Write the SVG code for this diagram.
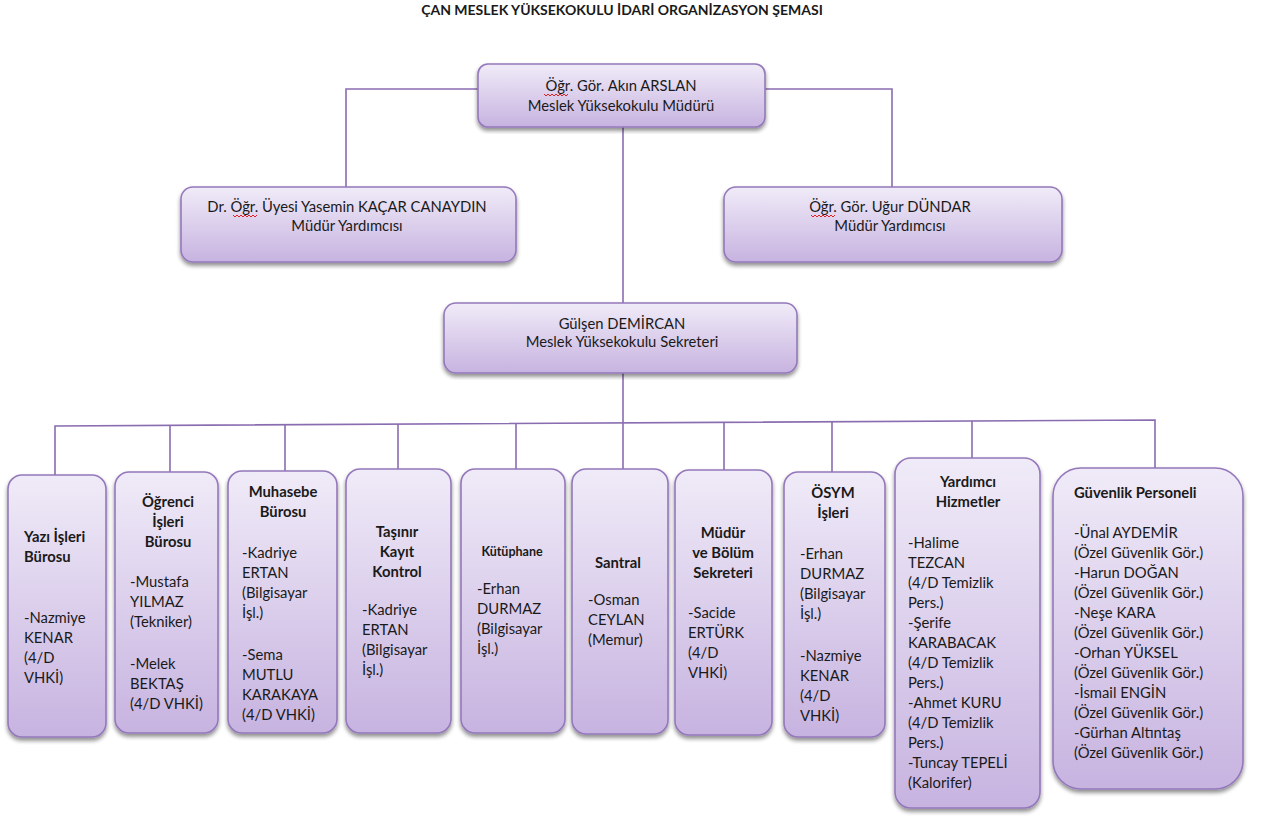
<svg xmlns="http://www.w3.org/2000/svg" width="1261" height="816" viewBox="0 0 1261 816">
<defs>
<linearGradient id="g" x1="0" y1="0" x2="0" y2="1">
<stop offset="0" stop-color="#f0ebf8"/>
<stop offset="1" stop-color="#c7b3e0"/>
</linearGradient>
<filter id="sh" x="-10%" y="-10%" width="120%" height="120%">
<feGaussianBlur in="SourceAlpha" stdDeviation="2"/>
<feOffset dx="0" dy="3" result="b"/>
<feComponentTransfer><feFuncA type="linear" slope="0.45"/></feComponentTransfer>
<feMerge><feMergeNode/><feMergeNode in="SourceGraphic"/></feMerge>
</filter>
<style>
.box{fill:url(#g);stroke:#9478bb;stroke-width:1.6;filter:url(#sh)}
.conn{fill:none;stroke:#8a6cb0;stroke-width:1.6}
text{font-family:Lato,"Open Sans","Liberation Sans",sans-serif;font-size:14.8px;fill:#1a1a1a}
.c{text-anchor:middle}
.b{font-weight:bold}
.title{font-size:14px;font-weight:bold;text-anchor:middle}
.sq{fill:none;stroke:#e02020;stroke-width:1}
</style>
</defs>
<rect width="1261" height="816" fill="#ffffff"/>
<text class="title" x="622" y="15">ÇAN MESLEK YÜKSEKOKULU İDARİ ORGANİZASYON ŞEMASI</text>

<g id="connectors">
<polyline class="conn" points="478,89 346,89 346,187"/>
<polyline class="conn" points="765,89 892,89 892,187"/>
<line class="conn" x1="623" y1="127" x2="623" y2="303"/>
<line class="conn" x1="623" y1="373" x2="623" y2="469"/>
<polyline class="conn" points="55,475 55,426 1155,420 1155,468"/>
<line class="conn" x1="170" y1="425.4" x2="170" y2="472"/>
<line class="conn" x1="285" y1="424.8" x2="285" y2="471"/>
<line class="conn" x1="398" y1="424.1" x2="398" y2="469"/>
<line class="conn" x1="516" y1="423.5" x2="516" y2="469"/>
<line class="conn" x1="724" y1="422.4" x2="724" y2="470"/>
<line class="conn" x1="832" y1="421.8" x2="832" y2="472"/>
<line class="conn" x1="972" y1="421" x2="972" y2="458"/>
</g>

<g id="n-mudur">
<rect class="box" x="478" y="64" width="287" height="63" rx="10"/>
<text class="c" x="621" y="91">Öğr. Gör. Akın ARSLAN</text>
<text class="c" x="621" y="111">Meslek Yüksekokulu  Müdürü</text>
<path class="sq" d="M544,94 l2,2 l2,-2 l2,2 l2,-2 l2,2 l2,-2 l2,2 l2,-2 l2,2 l2,-2 l2,2 l2,-2"/>
</g>

<g id="n-yard1">
<rect class="box" x="181" y="187" width="335" height="75" rx="12"/>
<text class="c" x="347" y="212">Dr. Öğr. Üyesi Yasemin KAÇAR CANAYDIN</text>
<text class="c" x="347" y="231">Müdür Yardımcısı</text>
<path class="sq" d="M233,215 l2,2 l2,-2 l2,2 l2,-2 l2,2 l2,-2 l2,2 l2,-2 l2,2 l2,-2 l2,2 l2,-2"/>
</g>

<g id="n-yard2">
<rect class="box" x="724" y="187" width="338" height="75" rx="12"/>
<text class="c" x="890" y="212">Öğr. Gör. Uğur DÜNDAR</text>
<text class="c" x="890" y="231">Müdür Yardımcısı</text>
<path class="sq" d="M811,215 l2,2 l2,-2 l2,2 l2,-2 l2,2 l2,-2 l2,2 l2,-2 l2,2 l2,-2 l2,2 l2,-2"/>
</g>

<g id="n-sekreter">
<rect class="box" x="444" y="303" width="353" height="70" rx="12"/>
<text class="c" x="622" y="329">Gülşen DEMİRCAN</text>
<text class="c" x="622" y="347">Meslek Yüksekokulu  Sekreteri</text>
</g>

<g id="n-yazi">
<rect class="box" x="8" y="475" width="98" height="262" rx="14"/>
<text class="b" x="24" y="542">Yazı İşleri</text>
<text class="b" x="24" y="562">Bürosu</text>
<text x="24" y="623">-Nazmiye</text>
<text x="24" y="643">KENAR</text>
<text x="24" y="663">(4/D</text>
<text x="24" y="683">VHKİ)</text>
</g>

<g id="n-ogrenci">
<rect class="box" x="115" y="472" width="103" height="261" rx="14"/>
<text class="c b" x="168" y="507">Öğrenci</text>
<text class="c b" x="168" y="527">İşleri</text>
<text class="c b" x="168" y="547">Bürosu</text>
<text x="130" y="587">-Mustafa</text>
<text x="130" y="607">YILMAZ</text>
<text x="130" y="627">(Tekniker)</text>
<text x="130" y="669">-Melek</text>
<text x="130" y="689">BEKTAŞ</text>
<text x="130" y="709">(4/D VHKİ)</text>
</g>

<g id="n-muhasebe">
<rect class="box" x="228" y="471" width="109" height="262" rx="14"/>
<text class="c b" x="283" y="497">Muhasebe</text>
<text class="c b" x="283" y="517">Bürosu</text>
<text x="242" y="558">-Kadriye</text>
<text x="242" y="578">ERTAN</text>
<text x="242" y="598">(Bilgisayar</text>
<text x="242" y="618">İşl.)</text>
<text x="242" y="660">-Sema</text>
<text x="242" y="680">MUTLU</text>
<text x="242" y="700">KARAKAYA</text>
<text x="242" y="720">(4/D VHKİ)</text>
</g>

<g id="n-tasinir">
<rect class="box" x="346" y="469" width="105" height="264" rx="14"/>
<text class="c b" x="397" y="537">Taşınır</text>
<text class="c b" x="397" y="557">Kayıt</text>
<text class="c b" x="397" y="577">Kontrol</text>
<text x="362" y="615">-Kadriye</text>
<text x="362" y="635">ERTAN</text>
<text x="362" y="655">(Bilgisayar</text>
<text x="362" y="675">İşl.)</text>
</g>

<g id="n-kutuphane">
<rect class="box" x="461" y="469" width="104" height="264" rx="14"/>
<text class="c b" x="512" y="556" style="font-size:12.5px">Kütüphane</text>
<text x="477" y="594">-Erhan</text>
<text x="477" y="614">DURMAZ</text>
<text x="477" y="634">(Bilgisayar</text>
<text x="477" y="654">İşl.)</text>
</g>

<g id="n-santral">
<rect class="box" x="572" y="469" width="96" height="265" rx="14"/>
<text class="c b" x="618" y="568">Santral</text>
<text x="588" y="605">-Osman</text>
<text x="588" y="625">CEYLAN</text>
<text x="588" y="645">(Memur)</text>
</g>

<g id="n-mudursek">
<rect class="box" x="675" y="470" width="97" height="265" rx="14"/>
<text class="c b" x="723" y="538">Müdür</text>
<text class="c b" x="723" y="558">ve Bölüm</text>
<text class="c b" x="723" y="578">Sekreteri</text>
<text x="688" y="618">-Sacide</text>
<text x="688" y="638">ERTÜRK</text>
<text x="688" y="658">(4/D</text>
<text x="688" y="678">VHKİ)</text>
</g>

<g id="n-osym">
<rect class="box" x="784" y="472" width="101" height="265" rx="14"/>
<text class="c b" x="833" y="498">ÖSYM</text>
<text class="c b" x="833" y="518">İşleri</text>
<text x="800" y="559">-Erhan</text>
<text x="800" y="579">DURMAZ</text>
<text x="800" y="599">(Bilgisayar</text>
<text x="800" y="619">İşl.)</text>
<text x="800" y="661">-Nazmiye</text>
<text x="800" y="681">KENAR</text>
<text x="800" y="701">(4/D</text>
<text x="800" y="721">VHKİ)</text>
</g>

<g id="n-yardimci">
<rect class="box" x="895" y="458" width="145" height="350" rx="16"/>
<text class="c b" x="968" y="487">Yardımcı</text>
<text class="c b" x="968" y="507">Hizmetler</text>
<text x="908" y="548">-Halime</text>
<text x="908" y="568">TEZCAN</text>
<text x="908" y="588">(4/D Temizlik</text>
<text x="908" y="608">Pers.)</text>
<text x="908" y="628">-Şerife</text>
<text x="908" y="648">KARABACAK</text>
<text x="908" y="668">(4/D Temizlik</text>
<text x="908" y="688">Pers.)</text>
<text x="908" y="708">-Ahmet KURU</text>
<text x="908" y="728">(4/D Temizlik</text>
<text x="908" y="748">Pers.)</text>
<text x="908" y="768">-Tuncay TEPELİ</text>
<text x="908" y="788">(Kalorifer)</text>
</g>

<g id="n-guvenlik">
<rect class="box" x="1053" y="468" width="190" height="321" rx="28"/>
<text class="b" x="1074" y="498">Güvenlik Personeli</text>
<text x="1074" y="538">-Ünal AYDEMİR</text>
<text x="1074" y="558">(Özel Güvenlik Gör.)</text>
<text x="1074" y="578">-Harun DOĞAN</text>
<text x="1074" y="598">(Özel Güvenlik Gör.)</text>
<text x="1074" y="618">-Neşe KARA</text>
<text x="1074" y="638">(Özel Güvenlik Gör.)</text>
<text x="1074" y="658">-Orhan YÜKSEL</text>
<text x="1074" y="678">(Özel Güvenlik Gör.)</text>
<text x="1074" y="698">-İsmail ENGİN</text>
<text x="1074" y="718">(Özel Güvenlik Gör.)</text>
<text x="1074" y="738">-Gürhan Altıntaş</text>
<text x="1074" y="758">(Özel Güvenlik Gör.)</text>
</g>
</svg>
